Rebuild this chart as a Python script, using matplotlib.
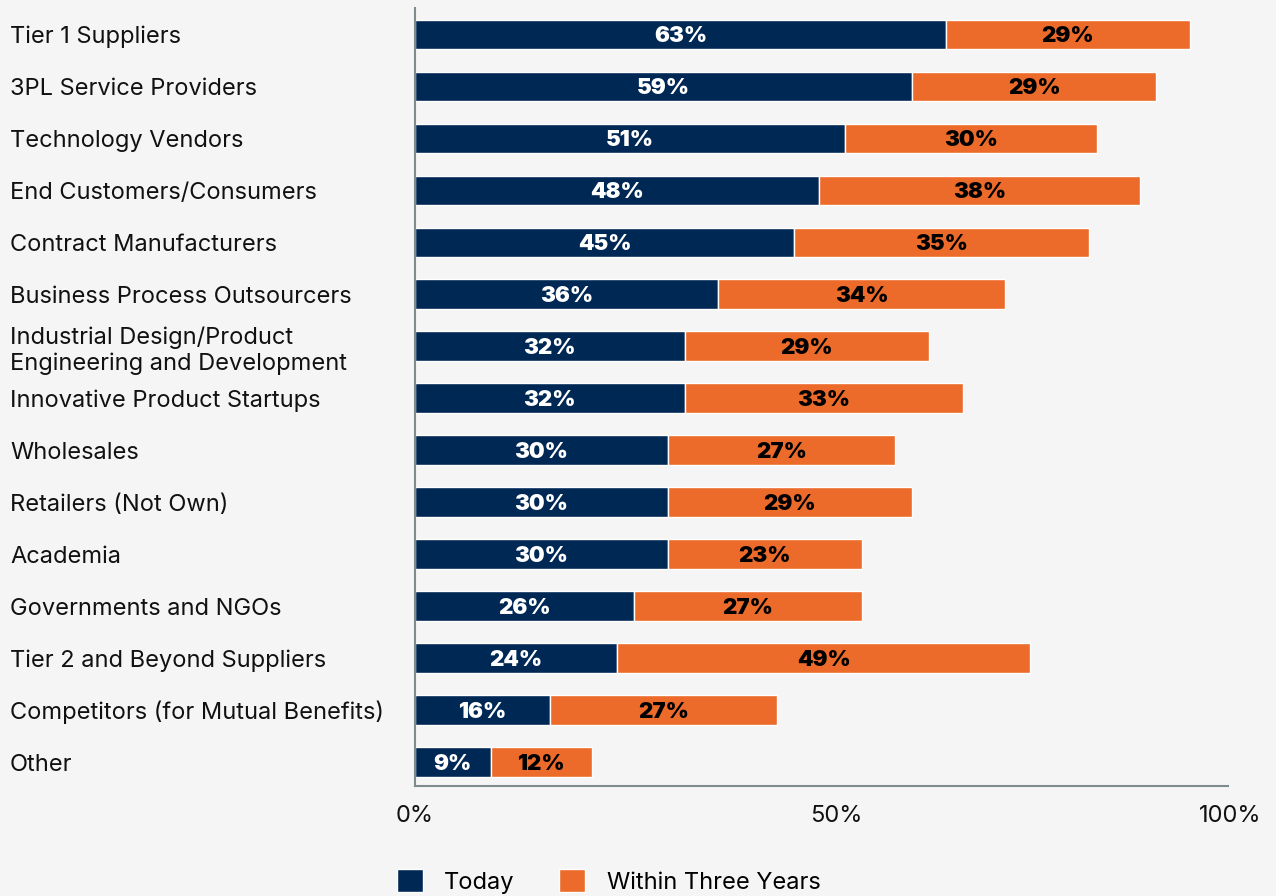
import matplotlib.pyplot as plt

# Data
categories = [
    "Tier 1 Suppliers", "3PL Service Providers", "Technology Vendors",
    "End Customers/Consumers", "Contract Manufacturers",
    "Business Process Outsourcers",
    "Industrial Design/Product\nEngineering and Development",
    "Innovative Product Startups", "Wholesales", "Retailers (Not Own)",
    "Academia", "Governments and NGOs", "Tier 2 and Beyond Suppliers",
    "Competitors (for Mutual Benefits)", "Other",
]
today = [63, 59, 51, 48, 45, 36, 32, 32, 30, 30, 30, 26, 24, 16, 9]
three_years = [29, 29, 30, 38, 35, 34, 29, 33, 27, 29, 23, 27, 49, 27, 12]
series_names = ["Today", "Within Three Years"]

navy = "#002855"
orange = "#ED6B2A"
bg = "#f5f5f5"

plt.rcParams["font.family"] = ["Inter", "DejaVu Sans"]

fig = plt.figure(figsize=(12.76, 8.96), dpi=100, facecolor=bg)
ax = fig.add_axes([0.3252, 0.1228, 0.6372, 0.8682], facecolor=bg)

y = list(range(len(categories)))
b1 = ax.barh(y, today, height=0.56, color=navy, edgecolor="white",
             linewidth=1, label=series_names[0])
b2 = ax.barh(y, three_years, left=today, height=0.56, color=orange,
             edgecolor="white", linewidth=1, label=series_names[1])

for i in y:
    ax.text(today[i] / 2, i + 0.03, f"{today[i]}%", ha="center", va="center",
            color="white", fontsize=16, fontweight=900)
    ax.text(today[i] + three_years[i] / 2, i + 0.03, f"{three_years[i]}%",
            ha="center", va="center", color="black", fontsize=16,
            fontweight=900)

ax.set_xlim(0, 96.5)
ax.set_ylim(14.46, -0.5)

# category labels, left aligned near the figure edge (pad is in points)
ax.set_yticks(y)
ax.set_yticklabels(categories, fontsize=17, color="#111111", ha="left",
                   linespacing=1.2)
ax.tick_params(axis="y", length=0, pad=(415 - 10) * 0.72)

ax.set_xticks([0, 50])
ax.set_xticklabels(["0%", "50%"], fontsize=17, color="#111111")
ax.tick_params(axis="x", length=0, pad=14)
ax.text(96.8, 0.0, "100%", transform=ax.get_xaxis_transform(),
        ha="center", va="top", fontsize=17, color="#111111")
# align the 100% label with the other tick labels
fig.canvas.draw()
lab = ax.get_xticklabels()[0]
ty = ax.transAxes.inverted().transform(lab.get_window_extent().get_points())[1][1]
ax.texts[-1].set_y(ty)

for s in ["top", "right"]:
    ax.spines[s].set_visible(False)
for s in ["left", "bottom"]:
    ax.spines[s].set_color("#7f8c8d")
    ax.spines[s].set_linewidth(1.5)

fig.legend(handles=[b1, b2], loc="lower center", bbox_to_anchor=(0.477, -0.021),
           ncol=2, frameon=False, fontsize=17, handlelength=1.1,
           handleheight=1.1, columnspacing=1.9, handletextpad=0.9)

fig.savefig("out.png", dpi=100, facecolor=bg)
